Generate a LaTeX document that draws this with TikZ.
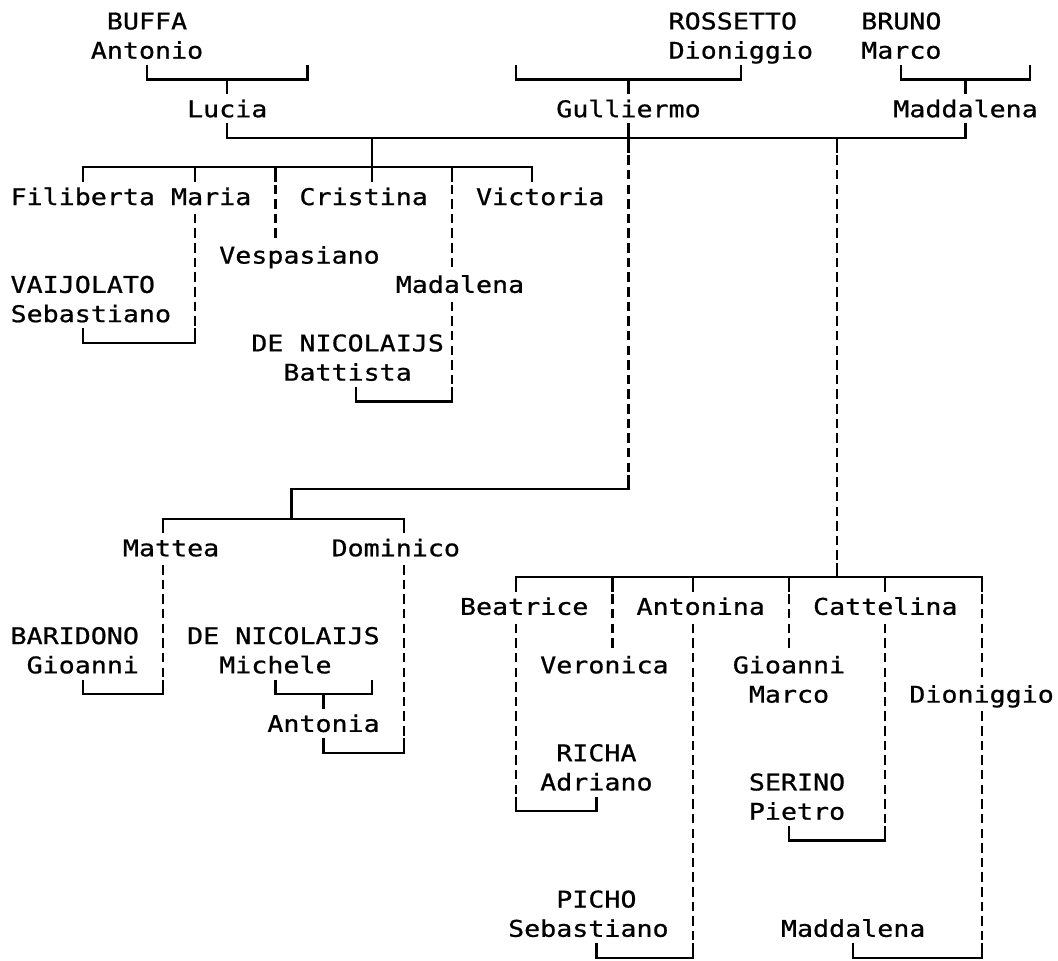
\documentclass[tikz,border=0pt]{standalone}
\usepackage{fontspec}
\newfontfamily\treefont{DejaVu Sans Mono}[FakeStretch=1.159,FakeBold=0.8]
\begin{document}
\begin{tikzpicture}[x=16.05pt, y=-29.27pt,
  tree/.style={line width=2.2pt, line cap=butt, line join=miter},
  dtree/.style={line width=2.2pt, line cap=butt, dash pattern=on 9.5pt off 5.135pt, dash phase=12.07pt},
  person/.style={font=\treefont\fontsize{23pt}{23pt}\selectfont, inner sep=0pt, anchor=base, yshift=-8.4pt}]
\useasboundingbox (-1.1589,-0.7175) rectangle (64.760,32.081);
% ---- people ----
\node[person] (buffa) at (8,0) {BUFFA};
\node[person] (rossetto) at (44.5,0) {ROSSETTO};
\node[person] (bruno) at (55,0) {BRUNO};
\node[person] (antonio) at (8,1) {Antonio};
\node[person] (dioniggioA) at (45,1) {Dioniggio};
\node[person] (marcoA) at (55,1) {Marco};
\node[person] (lucia) at (13,3) {Lucia};
\node[person] (gulliermo) at (38,3) {Gulliermo};
\node[person] (maddalenaA) at (59,3) {Maddalena};
\node[person] (filiberta) at (4,6) {Filiberta};
\node[person] (maria) at (12,6) {Maria};
\node[person] (cristina) at (21.5,6) {Cristina};
\node[person] (victoria) at (32.5,6) {Victoria};
\node[person] (vespasiano) at (17.5,8) {Vespasiano};
\node[person] (vaijolato) at (4,9) {VAIJOLATO};
\node[person] (madalena) at (27.5,9) {Madalena};
\node[person] (sebastianoA) at (4.5,10) {Sebastiano};
\node[person] (denicA) at (20.5,11) {DE NICOLAIJS};
\node[person] (battista) at (20.5,12) {Battista};
\node[person] (mattea) at (9.5,18) {Mattea};
\node[person] (dominico) at (23.5,18) {Dominico};
\node[person] (beatrice) at (31.5,20) {Beatrice};
\node[person] (antonina) at (42.5,20) {Antonina};
\node[person] (cattelina) at (54,20) {Cattelina};
\node[person] (baridono) at (3.5,21) {BARIDONO};
\node[person] (denicB) at (16.5,21) {DE NICOLAIJS};
\node[person] (gioanniA) at (4,22) {Gioanni};
\node[person] (michele) at (16,22) {Michele};
\node[person] (veronica) at (36.5,22) {Veronica};
\node[person] (gioanniB) at (48,22) {Gioanni};
\node[person] (marcoB) at (48,23) {Marco};
\node[person] (dioniggioB) at (60,23) {Dioniggio};
\node[person] (antonia) at (19,24) {Antonia};
\node[person] (richa) at (36,25) {RICHA};
\node[person] (adriano) at (36,26) {Adriano};
\node[person] (serino) at (48.5,26) {SERINO};
\node[person] (pietro) at (48.5,27) {Pietro};
\node[person] (picho) at (36,30) {PICHO};
\node[person] (sebastianoB) at (35.5,31) {Sebastiano};
\node[person] (maddalenaB) at (52,31) {Maddalena};
% ---- top couples ----
\draw[tree] (8,1.5) -- (8,2) -- (18,2) -- (18,1.5);
\draw[tree] (13,2) -- (13,2.5);
\draw[tree] (31,1.5) -- (31,2) -- (45,2) -- (45,1.5);
\draw[tree] (38,2) -- (38,2.5);
\draw[tree] (55,1.5) -- (55,2) -- (63,2) -- (63,1.5);
\draw[tree] (59,2) -- (59,2.5);
% ---- Lucia - Gulliermo - Maddalena ----
\draw[tree] (13,3.5) -- (13,4) -- (59,4) -- (59,3.5);
\draw[tree] (38,3.5) -- (38,4.5);
\draw[tree] (22,4) -- (22,5.5);
\draw[tree] (51,4) -- (51,4.5);
% ---- children of Lucia ----
\draw[tree] (4,5.5) -- (4,5) -- (32,5) -- (32,5.5);
\draw[tree] (11,5) -- (11,5.5);
\draw[tree] (16,5) -- (16,5.5);
\draw[tree] (27,5) -- (27,5.5);
\draw[dtree] (16,5.5) -- (16,7.5);
\draw[dtree] (11,6.5) -- (11,10.5);
\draw[tree] (11,10.5) -- (11,11) -- (4,11) -- (4,10.5);
\draw[dtree] (27,5.5) -- (27,8.5);
\draw[dtree] (27,9.5) -- (27,12.5);
\draw[tree] (27,12.5) -- (27,13) -- (21,13) -- (21,12.5);
% ---- Gulliermo line ----
\draw[dtree] (38,4.5) -- (38,15.5);
\draw[tree] (38,15.5) -- (38,16) -- (17,16) -- (17,16.5);
\draw[tree] (9,17.5) -- (9,17) -- (24,17) -- (24,17.5);
\draw[tree] (17,16.5) -- (17,17);
\draw[dtree] (9,18.5) -- (9,22.5);
\draw[tree] (9,22.5) -- (9,23) -- (4,23) -- (4,22.5);
\draw[dtree] (24,18.5) -- (24,24.5);
\draw[tree] (24,24.5) -- (24,25) -- (19,25) -- (19,24.5);
\draw[tree] (16,22.5) -- (16,23) -- (22,23) -- (22,22.5);
\draw[tree] (19,23) -- (19,23.5);
% ---- Maddalena line ----
\draw[dtree] (51,4.5) -- (51,18.5);
\draw[tree] (51,18.5) -- (51,19);
\draw[tree] (31,19.5) -- (31,19) -- (60,19) -- (60,19.5);
\draw[tree] (37,19) -- (37,19.5);
\draw[tree] (42,19) -- (42,19.5);
\draw[tree] (48,19) -- (48,19.5);
\draw[tree] (54,19) -- (54,19.5);
\draw[dtree] (37,19.5) -- (37,21.5);
\draw[dtree] (48,19.5) -- (48,21.5);
\draw[dtree] (31,20.5) -- (31,26.5);
\draw[tree] (31,26.5) -- (31,27) -- (36,27) -- (36,26.5);
\draw[dtree] (42,20.5) -- (42,31.5);
\draw[tree] (42,31.5) -- (42,32) -- (36,32) -- (36,31.5);
\draw[dtree] (54,20.5) -- (54,27.5);
\draw[tree] (54,27.5) -- (54,28) -- (48,28) -- (48,27.5);
\draw[dtree] (60,19.5) -- (60,22.5);
\draw[dtree] (60,23.5) -- (60,31.5);
\draw[tree] (60,31.5) -- (60,32) -- (52,32) -- (52,31.5);
\end{tikzpicture}
\end{document}
